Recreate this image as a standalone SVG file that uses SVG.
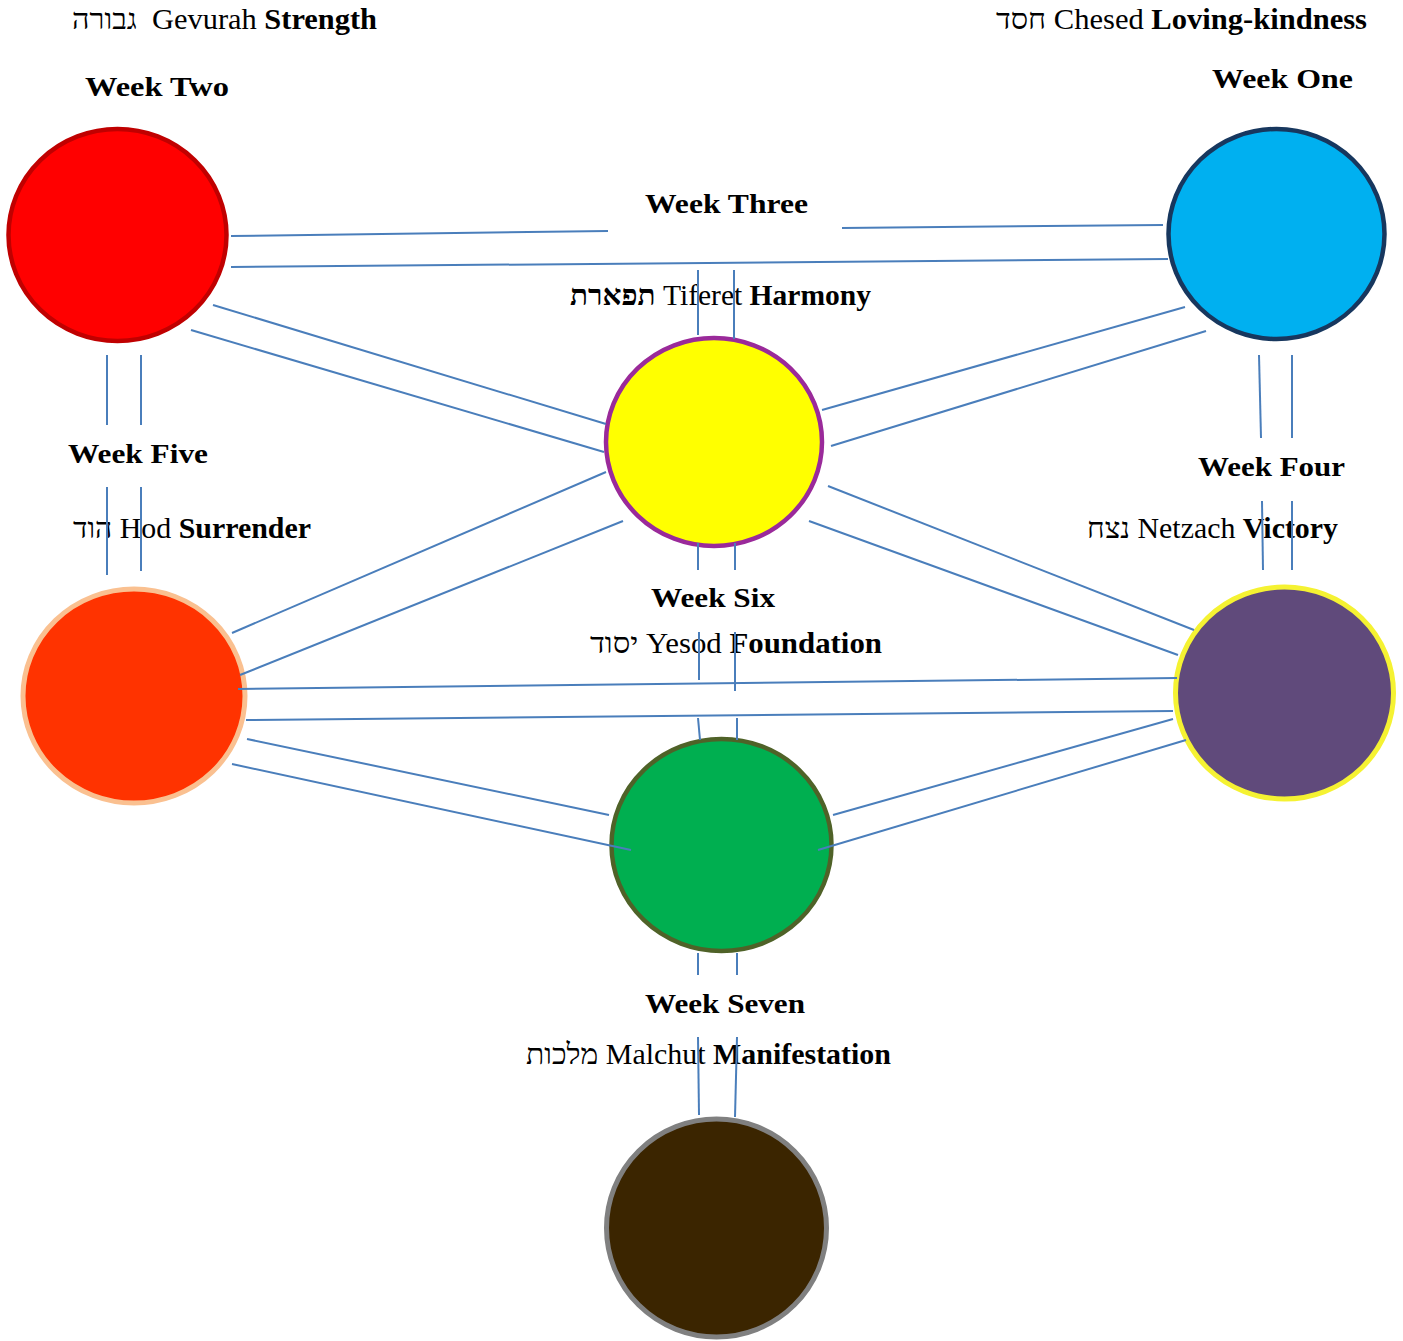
<svg xmlns="http://www.w3.org/2000/svg" width="1403" height="1341" viewBox="0 0 1403 1341">
<style>
text{font-family:"Liberation Serif","DejaVu Serif",serif;font-size:28px;fill:#000}
.m{font-size:29px;white-space:pre}
.b{font-weight:bold}
.c{stroke:#4A7EBB;stroke-width:2;fill:none}
.n{stroke-width:4.5}
</style>
<rect width="1403" height="1341" fill="#fff"/>
<g id="gevurah">
<ellipse class="n" cx="117.5" cy="235" rx="109" ry="106" fill="#FF0000" stroke="#C00000"/>
<text class="m" x="72" y="29" textLength="305" lengthAdjust="spacingAndGlyphs"><tspan>גבורה</tspan>  Gevurah <tspan class="b">Strength</tspan></text>
<text class="b" x="85" y="96" textLength="144" lengthAdjust="spacingAndGlyphs">Week Two</text>
</g>
<g id="chesed">
<ellipse class="n" cx="1276.5" cy="234" rx="108" ry="105" fill="#00B0F0" stroke="#17375E"/>
<text class="m" x="996" y="29" textLength="371" lengthAdjust="spacingAndGlyphs"><tspan>חסד</tspan> Chesed <tspan class="b">Loving-kindness</tspan></text>
<text class="b" x="1212" y="88" textLength="141" lengthAdjust="spacingAndGlyphs">Week One</text>
</g>
<g id="week-three">
<text class="b" x="645" y="213" textLength="163" lengthAdjust="spacingAndGlyphs">Week Three</text>
</g>
<g id="tiferet">
<ellipse class="n" cx="714" cy="442" rx="108" ry="104" fill="#FFFF00" stroke="#9A2A9A"/>
<text class="m" x="570" y="305" textLength="301" lengthAdjust="spacingAndGlyphs"><tspan class="b">תפארת</tspan> Tiferet <tspan class="b">Harmony</tspan></text>
</g>
<g id="hod">
<ellipse cx="134" cy="696" rx="111" ry="107" fill="#FF3300" stroke="#FAC090" stroke-width="5"/>
<text class="b" x="68" y="463" textLength="140" lengthAdjust="spacingAndGlyphs">Week Five</text>
<text class="m" x="73" y="538" textLength="238" lengthAdjust="spacingAndGlyphs"><tspan>הוד</tspan> Hod <tspan class="b">Surrender</tspan></text>
</g>
<g id="netzach">
<ellipse cx="1284.5" cy="693" rx="109" ry="106" fill="#604A7B" stroke="#F5F232" stroke-width="5"/>
<text class="b" x="1198" y="476" textLength="147" lengthAdjust="spacingAndGlyphs">Week Four</text>
<text class="m" x="1087" y="538" textLength="251" lengthAdjust="spacingAndGlyphs"><tspan>נצח</tspan> Netzach <tspan class="b">Victory</tspan></text>
</g>
<g id="yesod">
<ellipse class="n" cx="721.5" cy="845" rx="110" ry="106" fill="#00AF50" stroke="#4F6228"/>
<text class="b" x="651" y="607" textLength="124" lengthAdjust="spacingAndGlyphs">Week Six</text>
<text class="m" x="590" y="653" textLength="292" lengthAdjust="spacingAndGlyphs"><tspan>יסוד</tspan> Yesod <tspan class="b">Foundation</tspan></text>
</g>
<g id="malchut">
<ellipse cx="716.5" cy="1228" rx="110" ry="109" fill="#3B2500" stroke="#808080" stroke-width="5"/>
<text class="b" x="645" y="1013" textLength="160" lengthAdjust="spacingAndGlyphs">Week Seven</text>
<text class="m" x="526" y="1064" textLength="365" lengthAdjust="spacingAndGlyphs"><tspan>מלכות</tspan> Malchut <tspan class="b">Manifestation</tspan></text>
</g>
<g id="connectors" class="c">
<line x1="231" y1="236" x2="608" y2="231"/>
<line x1="842" y1="228" x2="1163" y2="225"/>
<line x1="231" y1="267" x2="1168" y2="259"/>
<line x1="213" y1="305" x2="606" y2="424"/>
<line x1="191" y1="330" x2="604" y2="452"/>
<line x1="822" y1="410" x2="1185" y2="307"/>
<line x1="831" y1="446" x2="1206" y2="331"/>
<line x1="698" y1="270" x2="698" y2="335"/>
<line x1="734" y1="270" x2="734" y2="339"/>
<line x1="107" y1="355" x2="107" y2="425"/>
<line x1="141" y1="355" x2="141" y2="425"/>
<line x1="107" y1="487" x2="107" y2="575"/>
<line x1="141" y1="487" x2="141" y2="571"/>
<line x1="1259" y1="355" x2="1261" y2="438"/>
<line x1="1292" y1="355" x2="1292" y2="438"/>
<line x1="1262" y1="501" x2="1263" y2="570"/>
<line x1="1292" y1="501" x2="1292" y2="570"/>
<line x1="606" y1="472" x2="232" y2="633"/>
<line x1="623" y1="521" x2="240" y2="675"/>
<line x1="828" y1="486" x2="1194" y2="630"/>
<line x1="809" y1="521" x2="1178" y2="655"/>
<line x1="698" y1="543" x2="698" y2="570"/>
<line x1="735" y1="543" x2="735" y2="570"/>
<line x1="699" y1="632" x2="699" y2="680"/>
<line x1="735" y1="632" x2="735" y2="691"/>
<line x1="698" y1="718" x2="700" y2="740"/>
<line x1="737" y1="718" x2="737" y2="740"/>
<line x1="238" y1="689" x2="1177" y2="678"/>
<line x1="246" y1="720" x2="1173" y2="711"/>
<line x1="247" y1="739" x2="609" y2="815"/>
<line x1="232" y1="764" x2="631" y2="850"/>
<line x1="833" y1="815" x2="1173" y2="719"/>
<line x1="818" y1="850" x2="1186" y2="740"/>
<line x1="698" y1="953" x2="698" y2="975"/>
<line x1="737" y1="953" x2="737" y2="975"/>
<line x1="698" y1="1037" x2="699" y2="1115"/>
<line x1="737" y1="1037" x2="735" y2="1117"/>
</g>
</svg>
